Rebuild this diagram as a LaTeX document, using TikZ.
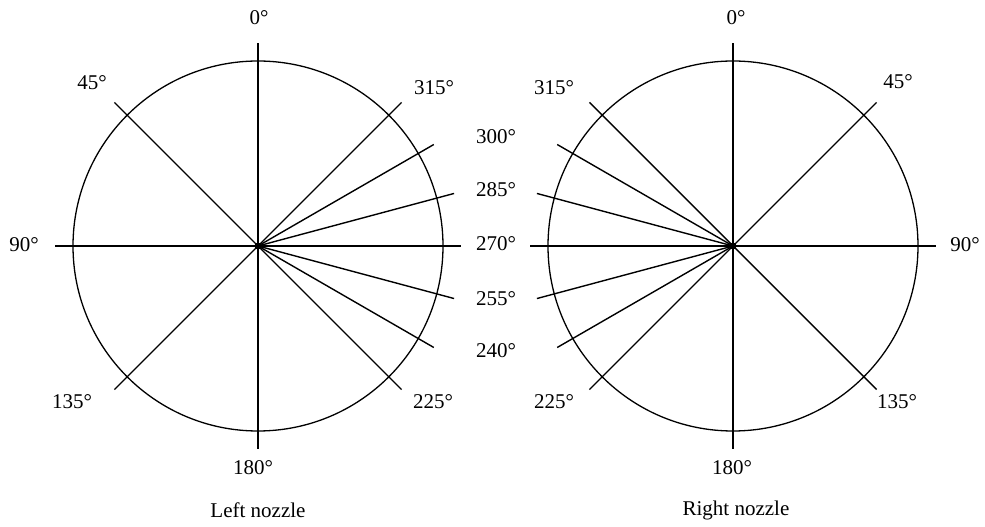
\documentclass[tikz,border=0pt]{standalone}
\usepackage{fontspec}
\setmainfont{Liberation Serif}
\begin{document}
\begin{tikzpicture}[x=1pt,y=1pt,
  lbl/.style={inner sep=0pt, font=\fontsize{21}{25}\selectfont},
  ray/.style={draw, line width=1.4pt},
  rim/.style={draw, line width=1.3pt},
  hub/.style={circle, fill=black, inner sep=0pt, minimum size=7pt}]
\useasboundingbox (0,0) rectangle (985,527);
% ---------- left nozzle ----------
\coordinate (L) at (258,281);
\draw[rim] (L) circle[radius=185pt];
\begin{scope}[shift={(258,281)}]
\foreach \a in {0,45,90,135,180,225,240,255,270,285,300,315}{
  \coordinate (Le\a) at (90+\a:203pt);
}
\end{scope}
\foreach \a in {0,45,90,135,180,225,240,255,270,285,300,315}{
  \draw[ray] (L) -- (Le\a);
}
\node[hub] (Lhub) at (L) {};
% ---------- right nozzle ----------
\coordinate (R) at (733,281);
\draw[rim] (R) circle[radius=185pt];
\begin{scope}[shift={(733,281)}]
\foreach \a in {0,45,90,135,180,225,240,255,270,285,300,315}{
  \coordinate (Re\a) at (90-\a:203pt);
}
\end{scope}
\foreach \a in {0,45,90,135,180,225,240,255,270,285,300,315}{
  \draw[ray] (R) -- (Re\a);
}
\node[hub] (Rhub) at (R) {};
% ---------- labels, left ----------
\node[lbl] (l0)   at (259,509) {0°};
\node[lbl] (l45)  at (92,444)  {45°};
\node[lbl] (l90)  at (24,282)  {90°};
\node[lbl] (l135) at (72,125)  {135°};
\node[lbl] (l180) at (253,59)  {180°};
\node[lbl] (l225) at (433,125) {225°};
\node[lbl] (l315) at (434,439) {315°};
\node[lbl] (lname) at (258,17) {Left nozzle};
% ---------- shared middle column ----------
\node[lbl] (m300) at (496,390) {300°};
\node[lbl] (m285) at (496,337) {285°};
\node[lbl] (m270) at (496,283) {270°};
\node[lbl] (m255) at (496,228) {255°};
\node[lbl] (m240) at (496,176) {240°};
% ---------- labels, right ----------
\node[lbl] (r0)   at (736,509) {0°};
\node[lbl] (r45)  at (898,445) {45°};
\node[lbl] (r90)  at (965,282) {90°};
\node[lbl] (r135) at (897,125) {135°};
\node[lbl] (r180) at (732,59)  {180°};
\node[lbl] (r225) at (554,125) {225°};
\node[lbl] (r315) at (554,439) {315°};
\node[lbl] (rname) at (736,17) {Right nozzle};
\end{tikzpicture}
\end{document}
